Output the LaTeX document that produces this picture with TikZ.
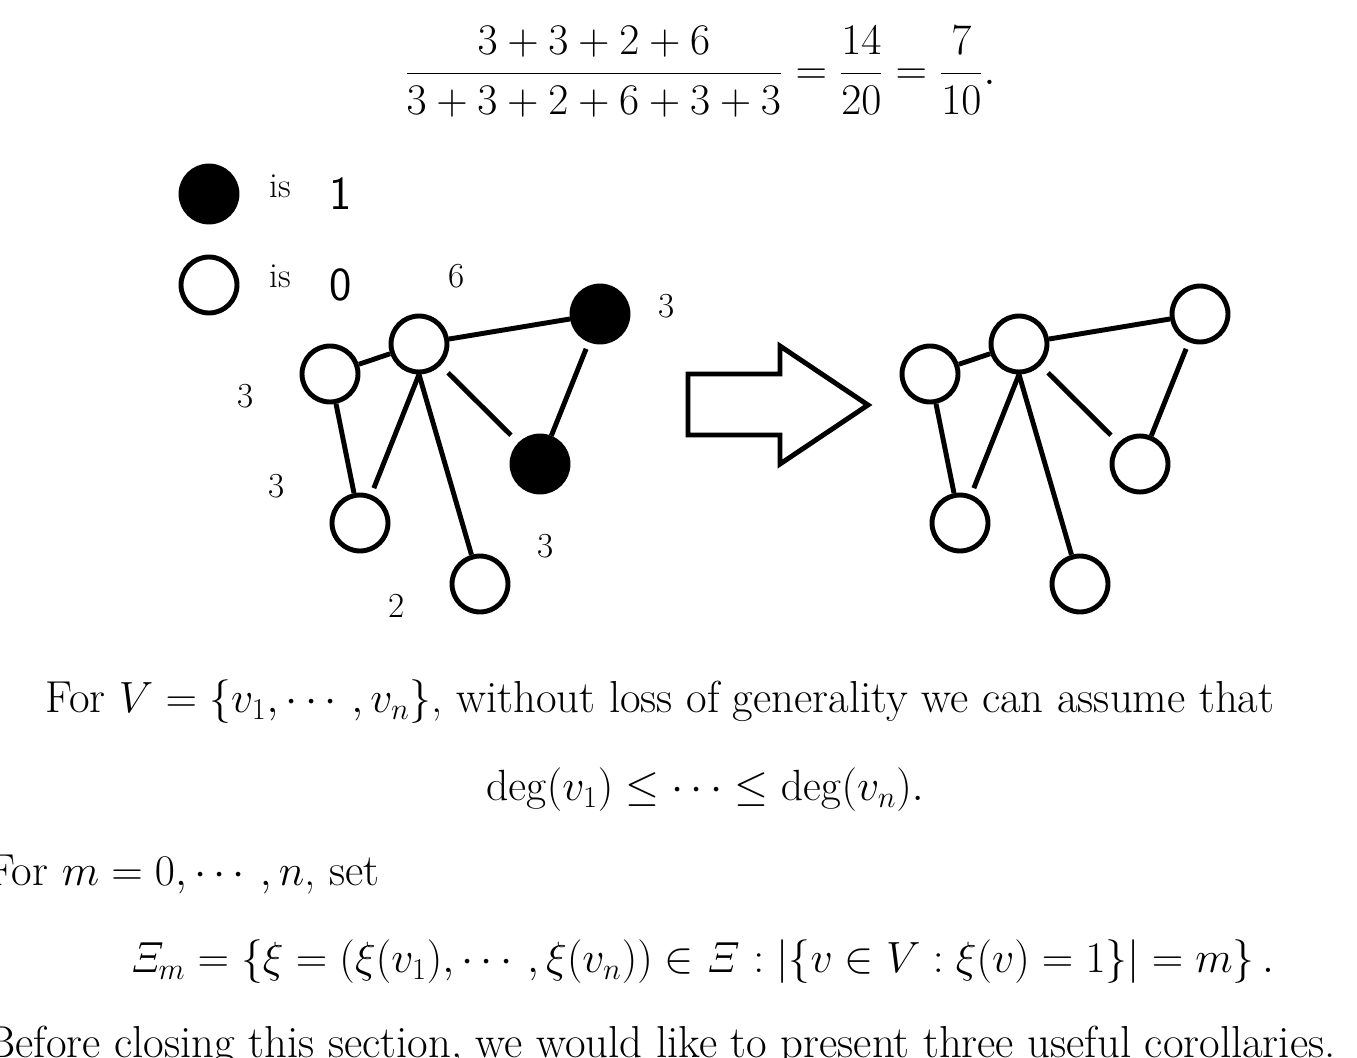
\documentclass[tikz,border=0pt]{standalone}
\usepackage{amsmath,amssymb}
\begin{document}
\begin{tikzpicture}[x=0.02cm,y=-0.02cm,
  vtx/.style={circle,draw,line width=2.8pt,minimum size=1.12cm,inner sep=0pt,fill=white},
  bvtx/.style={vtx,fill=black},
  edge/.style={line width=2.8pt},
  lab/.style={font=\fontsize{20}{24}\selectfont},
  txt/.style={font=\fontsize{25.5}{30}\selectfont,inner sep=0pt}]
\useasboundingbox (0,0) rectangle (1357,1058);
\node[txt] (eq) at (700,72) {$\dfrac{3+3+2+6}{3+3+2+6+3+3}=\dfrac{14}{20}=\dfrac{7}{10}.$};
\node[bvtx] (k1) at (209,194) {};
\node[vtx] (k0) at (209,285) {};
\node[lab] (is1) at (280,186) {is};
\node[lab] (is0) at (280,276) {is};
\node[font=\sffamily\fontsize{27}{30}\selectfont] (one) at (341,194) {1};
\node[font=\sffamily\fontsize{27}{30}\selectfont] (zero) at (341,285) {0};
% left graph
\node[vtx] (A) at (330,374) {};
\node[vtx] (B) at (419,344) {};
\node[bvtx] (C) at (600,314) {};
\node[bvtx] (D) at (540,464) {};
\node[vtx] (E) at (360,523) {};
\node[vtx] (F) at (480,584) {};
\draw[edge] (A)--(B); \draw[edge] (B)--(C); \draw[edge,shorten <=4pt] (C)--(D);
\draw[edge,shorten <=6pt,shorten >=6pt] (B)--(D);
\draw[edge] (A)--(E); \draw[edge,shorten >=4pt] (B.south)--(E); \draw[edge] (B.south)--(F);
\node[lab] (l6) at (457,276) {6};
\node[lab] (l3a) at (667,306) {3};
\node[lab] (l3b) at (246,396) {3};
\node[lab] (l3c) at (277,486) {3};
\node[lab] (l3d) at (546,546) {3};
\node[lab] (l2) at (397,606) {2};
% arrow
\draw[line width=2.8pt] (688,374)--(780,374)--(780,346)--(868,405)--(780,464)--(780,435)--(688,435)--cycle;
% right graph
\node[vtx] (A2) at (930,374) {};
\node[vtx] (B2) at (1019,344) {};
\node[vtx] (C2) at (1200,314) {};
\node[vtx] (D2) at (1140,464) {};
\node[vtx] (E2) at (960,523) {};
\node[vtx] (F2) at (1080,584) {};
\draw[edge] (A2)--(B2); \draw[edge] (B2)--(C2); \draw[edge,shorten <=4pt] (C2)--(D2);
\draw[edge,shorten <=6pt,shorten >=6pt] (B2)--(D2);
\draw[edge] (A2)--(E2); \draw[edge,shorten >=4pt] (B2.south)--(E2); \draw[edge] (B2.south)--(F2);
% text
\node[txt] (t1) at (660,702) {For $V=\{v_1,\cdots,v_n\}$, without loss of generality we can assume that};
\node[txt] (t2) at (705,790) {$\deg(v_1)\le\cdots\le\deg(v_n).$};
\node[txt,anchor=west] (t3) at (-12,875) {For $m=0,\cdots,n$, set};
\node[txt] (t4) at (702,962) {$\mathit{\Xi}_m=\left\{\xi=(\xi(v_1),\cdots,\xi(v_n))\in\mathit{\Xi}:|\{v\in V:\xi(v)=1\}|=m\right\}.$};
\node[txt,anchor=west] (t5) at (-14,1046) {Before closing this section, we would like to present three useful corollaries.};
\end{tikzpicture}
\end{document}
